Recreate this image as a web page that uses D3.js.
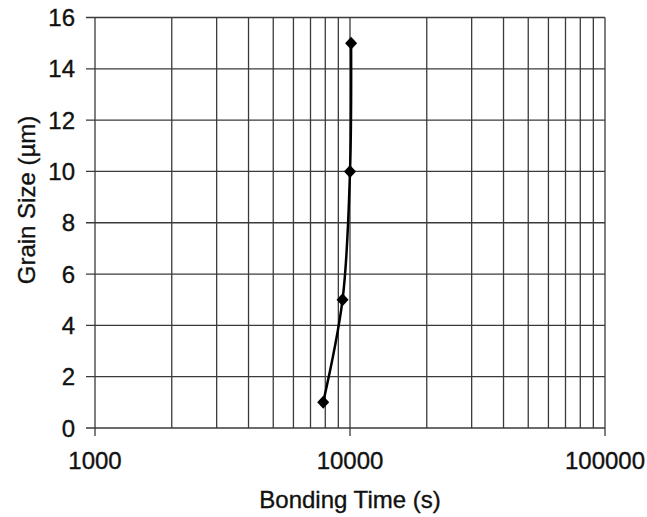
<!DOCTYPE html>
<html lang="en">
<head>
  <meta charset="UTF-8">
  <title>Grain Size vs Bonding Time</title>
  <script src="https://d3js.org/d3.v7.min.js"></script>
  <style>
    body { margin: 0; background: #fff; }
    svg { display: block; font-family: 'Liberation Sans', Arial, sans-serif; }
    .lbl { font-size: 24px; fill: #111; stroke: #111; stroke-width: 0.35px; }
  </style>
</head>
<body>
  <svg id="chart" width="647" height="517"></svg>
  <script>
    // data
    const bondingTime = [7850, 9350, 10000, 10100];
    const grainSize = [1, 5, 10, 15];
    const xTickValues = [1000, 10000, 100000];
    const yTickValues = [0, 2, 4, 6, 8, 10, 12, 14, 16];

    const svg = d3.select("#chart");
    const plotLeft = 95, plotRight = 605, plotTop = 17.5, plotBottom = 428;

    const x = d3.scaleLog().domain([1000, 100000]).range([plotLeft, plotRight]);
    const y = d3.scaleLinear().domain([0, 16]).range([plotBottom, plotTop]);

    // minor vertical gridlines (2000..9000, 20000..90000)
    const minor = [];
    [1000, 10000].forEach(dec => {
      for (let k = 2; k <= 9; k++) minor.push(dec * k);
    });

    const grid = svg.append("g").attr("stroke", "#3a3a3a").attr("stroke-width", 1.3);

    grid.selectAll("line.minor")
      .data(minor)
      .enter().append("line")
      .attr("x1", d => x(d)).attr("x2", d => x(d))
      .attr("y1", plotTop).attr("y2", plotBottom);

    // major verticals go a little past the axis as ticks
    grid.selectAll("line.major")
      .data(xTickValues)
      .enter().append("line")
      .attr("x1", d => x(d)).attr("x2", d => x(d))
      .attr("y1", plotTop).attr("y2", plotBottom + 8);

    // horizontals go a little left of the axis as ticks
    grid.selectAll("line.h")
      .data(yTickValues)
      .enter().append("line")
      .attr("x1", plotLeft - 9).attr("x2", plotRight)
      .attr("y1", d => y(d)).attr("y2", d => y(d));

    // y tick labels
    svg.append("g")
      .selectAll("text")
      .data(yTickValues)
      .enter().append("text")
      .attr("class", "lbl")
      .attr("x", 75)
      .attr("y", d => y(d))
      .attr("dy", "0.36em")
      .attr("text-anchor", "end")
      .text(d => d);

    // x tick labels
    svg.append("g")
      .selectAll("text")
      .data(xTickValues)
      .enter().append("text")
      .attr("class", "lbl")
      .attr("x", d => x(d))
      .attr("y", 469)
      .attr("text-anchor", "middle")
      .text(d => d);

    svg.append("text")
      .attr("class", "lbl")
      .attr("x", 350)
      .attr("y", 508)
      .attr("text-anchor", "middle")
      .text("Bonding Time (s)");

    svg.append("text")
      .attr("class", "lbl")
      .attr("transform", "translate(35,200) rotate(-90)")
      .attr("text-anchor", "middle")
      .text("Grain Size (\u00b5m)");

    const points = bondingTime.map((t, i) => ({ t: t, g: grainSize[i] }));

    const line = d3.line()
      .x(d => x(d.t))
      .y(d => y(d.g))
      .curve(d3.curveCatmullRom.alpha(0.5));

    svg.append("path")
      .datum(points)
      .attr("fill", "none")
      .attr("stroke", "#000")
      .attr("stroke-width", 2.5)
      .attr("d", line);

    svg.append("g")
      .selectAll("path")
      .data(points)
      .enter().append("path")
      .attr("transform", d => `translate(${x(d.t)},${y(d.g)})`)
      .attr("d", "M0,-6.5L6,0L0,6.5L-6,0Z")
      .attr("fill", "#000");
  </script>
</body>
</html>
